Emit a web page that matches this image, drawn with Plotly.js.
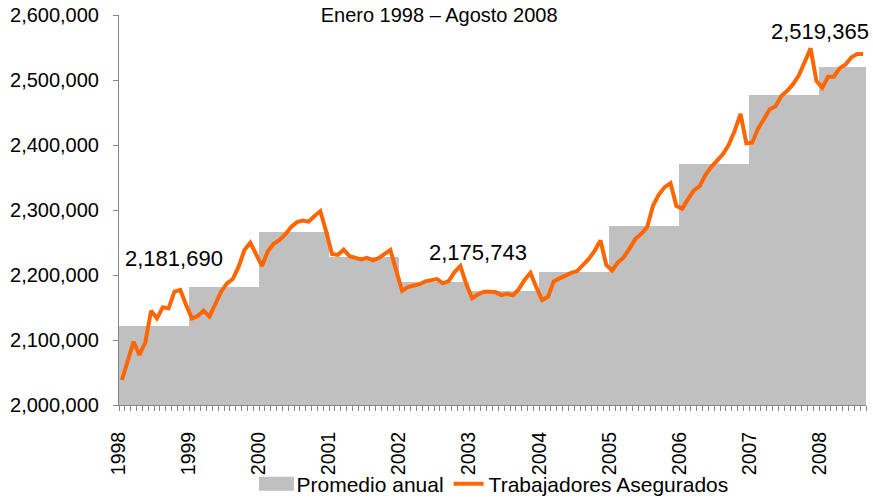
<!DOCTYPE html>
<html>
<head>
<meta charset="utf-8">
<script src="https://cdn.plot.ly/plotly-3.0.1.min.js"></script>
<style>
html, body { margin: 0; padding: 0; background: #ffffff; }
#chart { width: 873px; height: 499px; }
</style>
</head>
<body>
<div id="chart"></div>
<script>
// ---- Data ----
const years = [1998, 1999, 2000, 2001, 2002, 2003, 2004, 2005, 2006, 2007, 2008];
const yearLabels = ['1998', '1999', '2000', '2001', '2002', '2003', '2004', '2005', '2006', '2007', '2008'];

// Promedio anual (annual average of insured workers)
const annualAverage = [2121500, 2181690, 2266600, 2228200, 2189700, 2175743, 2205100, 2275400, 2370800, 2476400, 2519365];

// Years whose average is written on the chart
const labeledYears = [1999, 2003, 2008];

// Trabajadores Asegurados, monthly, Jan 1998 - Aug 2008
const insured1998 = [2038500, 2068000, 2097400, 2077000, 2096000, 2145000, 2133300, 2150300, 2148700, 2174400, 2176900, 2153800];
const insured1999 = [2133300, 2136900, 2145100, 2135900, 2156400, 2174400, 2187200, 2193800, 2212800, 2238500, 2249700, 2230800];
const insured2000 = [2213800, 2236400, 2248000, 2253800, 2262300, 2274100, 2281400, 2283800, 2282000, 2290800, 2298100, 2266700];
const insured2001 = [2232300, 2230800, 2239000, 2229000, 2226000, 2224100, 2226400, 2222500, 2226100, 2233000, 2238500, 2207100];
const insured2002 = [2175600, 2181300, 2183600, 2185800, 2190300, 2191500, 2193800, 2187200, 2190700, 2204600, 2213800, 2186100];
const insured2003 = [2164200, 2170000, 2174300, 2174100, 2173700, 2169100, 2171000, 2168700, 2178200, 2192300, 2203300, 2181300];
const insured2004 = [2161500, 2166400, 2190200, 2194800, 2199500, 2203200, 2206100, 2215400, 2224800, 2237200, 2253000, 2215600];
const insured2005 = [2207100, 2219600, 2227500, 2240900, 2255600, 2263400, 2273600, 2306400, 2323700, 2335200, 2341300, 2306500];
const insured2006 = [2301900, 2316700, 2330200, 2336700, 2354200, 2366400, 2375600, 2386200, 2400800, 2421800, 2448000, 2402500];
const insured2007 = [2403600, 2425200, 2439600, 2454900, 2459500, 2475400, 2483300, 2493600, 2507100, 2527400, 2548700, 2498700];
const insured2008 = [2488200, 2505100, 2505100, 2518200, 2523900, 2535100, 2540000, 2540000];

// ---- Build traces ----
const monthlyByYear = [insured1998, insured1999, insured2000, insured2001, insured2002, insured2003,
                       insured2004, insured2005, insured2006, insured2007, insured2008];
const insuredWorkers = [].concat(...monthlyByYear);
const monthIndex = insuredWorkers.map((v, i) => i);

// one bar per year spanning its months
const barX = [], barW = [], yearStartTicks = [];
let start = 0;
monthlyByYear.forEach(arr => {
  barX.push(start + (arr.length - 1) / 2);
  barW.push(arr.length);
  yearStartTicks.push(start - 0.5);
  start += arr.length;
});

const fontFamily = 'Liberation Sans, Arial, sans-serif';

const traces = [
  {
    type: 'bar',
    name: 'Promedio anual',
    x: barX,
    y: annualAverage,
    width: barW,
    marker: { color: '#C0C0C0', line: { width: 0 } },
    hoverinfo: 'skip'
  },
  {
    type: 'scatter',
    mode: 'lines',
    name: 'Trabajadores Asegurados',
    x: monthIndex,
    y: insuredWorkers,
    line: { color: '#FF6600', width: 4 },
    hoverinfo: 'skip'
  }
];

// annotation positions (layout only)
const annotPos = {
  1999: { x: 8.9, y: 2226000 },
  2003: { x: 61.0, y: 2235000 },
  2008: { x: 119.7, y: 2574000 }
};
const annotations = labeledYears.map(yr => {
  const v = annualAverage[years.indexOf(yr)];
  return {
    x: annotPos[yr].x, y: annotPos[yr].y, xref: 'x', yref: 'y',
    text: v.toLocaleString('en-US'),
    showarrow: false,
    xanchor: 'center', yanchor: 'middle',
    font: { family: fontFamily, size: 22, color: '#000000' }
  };
});

const axisColor = '#868686';

const layout = {
  width: 873,
  height: 499,
  margin: { l: 119, r: 7, t: 15, b: 94, pad: 0, autoexpand: false },
  paper_bgcolor: '#ffffff',
  plot_bgcolor: '#ffffff',
  font: { family: fontFamily, size: 20, color: '#000000' },
  title: {
    text: 'Enero 1998 – Agosto 2008',
    font: { family: fontFamily, size: 20, color: '#000000' },
    xref: 'container', x: 0.503, xanchor: 'center',
    yref: 'container', y: 1 - 15 / 499, yanchor: 'middle'
  },
  bargap: 0,
  showlegend: true,
  legend: {
    orientation: 'h',
    xref: 'container', x: 495 / 873, xanchor: 'center',
    yref: 'container', y: 1 - 484 / 499, yanchor: 'middle',
    font: { family: fontFamily, size: 21, color: '#000000' },
    bgcolor: 'rgba(0,0,0,0)',
    traceorder: 'normal'
  },
  xaxis: {
    range: [-0.5, insuredWorkers.length - 0.5],
    tickmode: 'array',
    tickvals: yearStartTicks,
    ticktext: yearLabels,
    tickangle: -90,
    ticks: 'outside',
    ticklen: 5,
    tickcolor: axisColor,
    ticklabelstandoff: 13,
    tickfont: { family: fontFamily, size: 19.5, color: '#000000' },
    showline: true,
    linecolor: axisColor,
    linewidth: 1,
    showgrid: false,
    zeroline: false,
    fixedrange: true,
    minor: {
      tickmode: 'linear',
      tick0: -0.5,
      dtick: 1,
      ticks: 'outside',
      ticklen: 5,
      tickcolor: axisColor,
      showgrid: false
    }
  },
  yaxis: {
    range: [2000000, 2600000],
    tickmode: 'linear',
    tick0: 2000000,
    dtick: 100000,
    tickformat: ',d',
    ticks: 'outside',
    ticklen: 5,
    tickcolor: axisColor,
    ticklabelstandoff: 10,
    tickfont: { family: fontFamily, size: 20, color: '#000000' },
    showline: true,
    linecolor: axisColor,
    linewidth: 1,
    showgrid: false,
    zeroline: false,
    fixedrange: true
  },
  annotations: annotations
};

Plotly.newPlot('chart', traces, layout, { staticPlot: true, displayModeBar: false }).then(gd => {
  // widen the bar legend swatch to the wide box style of the original chart
  gd.querySelectorAll('.legend .traces').forEach(t => {
    t.querySelectorAll('.legendpoints path').forEach(p => {
      if (p.style.fill && p.style.fill.indexOf('192') >= 0) p.setAttribute('d', 'M17.5,7H-17.5V-7H17.5Z');
    });
  });
});
</script>
</body>
</html>
